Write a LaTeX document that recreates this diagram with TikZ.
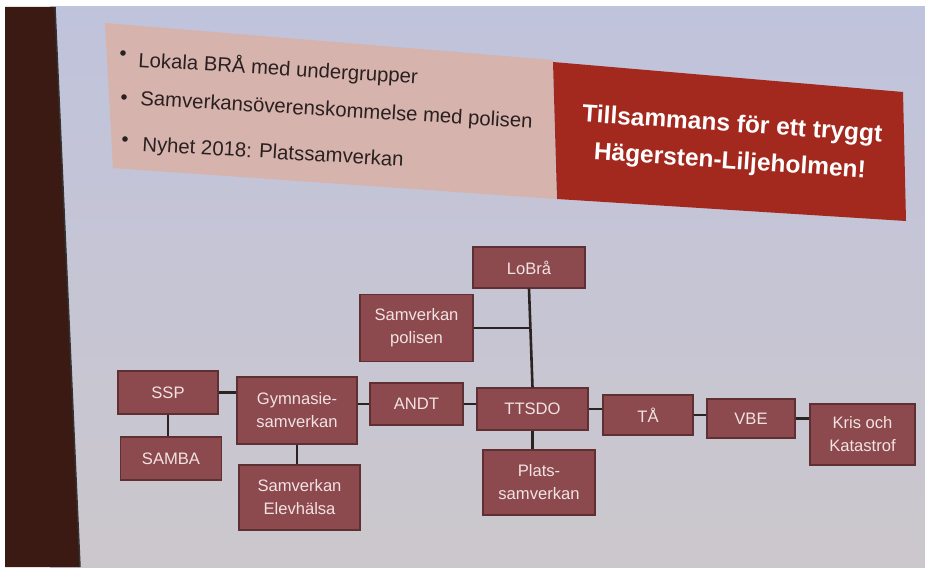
\documentclass[tikz,border=0pt]{standalone}
\usepackage{fontspec}
\setmainfont{Liberation Sans}
\definecolor{darkstrip}{HTML}{3A1A12}
\definecolor{slidetop}{HTML}{C0C3DC}
\definecolor{slidemid}{HTML}{DFCCCF}
\definecolor{slidebot}{HTML}{CBC7CC}
\definecolor{pinkbox}{HTML}{D6B3AD}
\definecolor{redbox}{HTML}{A3281E}
\definecolor{orgfill}{HTML}{8C4A4E}
\definecolor{orgborder}{HTML}{5E3034}
\definecolor{orgtext}{HTML}{F2E2E2}
\definecolor{linecol}{HTML}{2B2222}
\definecolor{bodytext}{HTML}{2A2020}
\tikzset{
  orgbox/.style={draw=orgborder, line width=1.2pt, fill=orgfill, text=orgtext,
    font=\fontsize{16.6}{23}\selectfont, align=center, inner sep=2pt},
  conn/.style={draw=linecol, line width=2.6pt},
  bullettext/.style={anchor=base west, text=bodytext, font=\fontsize{20.3}{24}\selectfont, inner sep=0pt, rotate=-3.4},
  titletext/.style={text=white, font=\bfseries\fontsize{24.5}{37}\selectfont, inner sep=0pt, align=center}
}
\begin{document}
\begin{tikzpicture}[x=1pt,y=-1pt]
\useasboundingbox (0,0) rectangle (925,567);
% frame and background
\fill[white] (0,0) rectangle (925,567);
\shade[top color=slidetop, middle color=slidemid, bottom color=slidebot] (50,7) rectangle (925,567);
\fill[darkstrip] (5,7) -- (55,7) -- (80,567) -- (5,567) -- cycle;
\draw[black!80, line width=1.5pt] (55,7) -- (80,567);
% pink text box
\fill[pinkbox] (105,23) -- (553,60) -- (556,199) -- (113,168) -- cycle;
% red box
\fill[redbox] (553,62) -- (903,92) -- (906,221) -- (557,199) -- cycle;
% bullets
\fill[bodytext] (123,53) circle (2.8);
\fill[bodytext] (124,97) circle (2.8);
\fill[bodytext] (125,139) circle (2.8);
\node[bullettext] (b1) at (138,67) {Lokala BRÅ med undergrupper};
\node[bullettext] (b2) at (140,105) {Samverkansöverenskommelse med polisen};
\node[bullettext] (b3) at (142,151) {Nyhet 2018: Platssamverkan};
% title
\node[titletext, rotate=-3.8] (title) at (731,144) {Tillsammans för ett tryggt\\Hägersten-Liljeholmen!};
% org chart
\node[orgbox, minimum width=112pt, minimum height=41pt] (lobra) at (529,267.5) {LoBrå};
\node[orgbox, minimum width=113pt, minimum height=67pt] (polisen) at (416.5,328) {Samverkan\\polisen};
\node[orgbox, minimum width=100pt, minimum height=43pt] (ssp) at (168,392.5) {SSP};
\node[orgbox, minimum width=120pt, minimum height=67pt] (gym) at (297,410.5) {Gymnasie-\\samverkan};
\node[orgbox, minimum width=93pt, minimum height=42pt] (andt) at (416.5,404) {ANDT};
\node[orgbox, minimum width=111pt, minimum height=42pt] (ttsdo) at (532.5,409) {TTSDO};
\node[orgbox, minimum width=90pt, minimum height=40pt] (ta) at (648,415) {TÅ};
\node[orgbox, minimum width=88pt, minimum height=39pt] (vbe) at (751,418.5) {VBE};
\node[orgbox, minimum width=105pt, minimum height=61pt] (kris) at (862.5,434.5) {Kris och\\Katastrof};
\node[orgbox, minimum width=101pt, minimum height=43pt] (samba) at (171,458.5) {SAMBA};
\node[orgbox, minimum width=121pt, minimum height=65pt] (elev) at (299.5,497.5) {Samverkan\\Elevhälsa};
\node[orgbox, minimum width=112pt, minimum height=65pt] (plats) at (539,482.5) {Plats-\\samverkan};
% connectors
\coordinate (junc) at (531,330);
\draw[conn] (lobra.south) -- (ttsdo.north);
\draw[conn] (polisen.east) -- (polisen.east -| junc);
\draw[conn] (ssp.east) -- (ssp.east -| gym.west);
\draw[conn] (andt.west -| gym.east) -- (andt.west);
\draw[conn] (andt.east) -- (andt.east -| ttsdo.west);
\draw[conn] (ttsdo.east) -- (ttsdo.east -| ta.west);
\draw[conn] (ta.east) -- (ta.east -| vbe.west);
\draw[conn] (vbe.east) -- (vbe.east -| kris.west);
\draw[conn] (ssp.south) -- (ssp.south |- samba.north);
\draw[conn] (gym.south) -- (gym.south |- elev.north);
\draw[conn] (ttsdo.south) -- (ttsdo.south |- plats.north);
\end{tikzpicture}
\end{document}
